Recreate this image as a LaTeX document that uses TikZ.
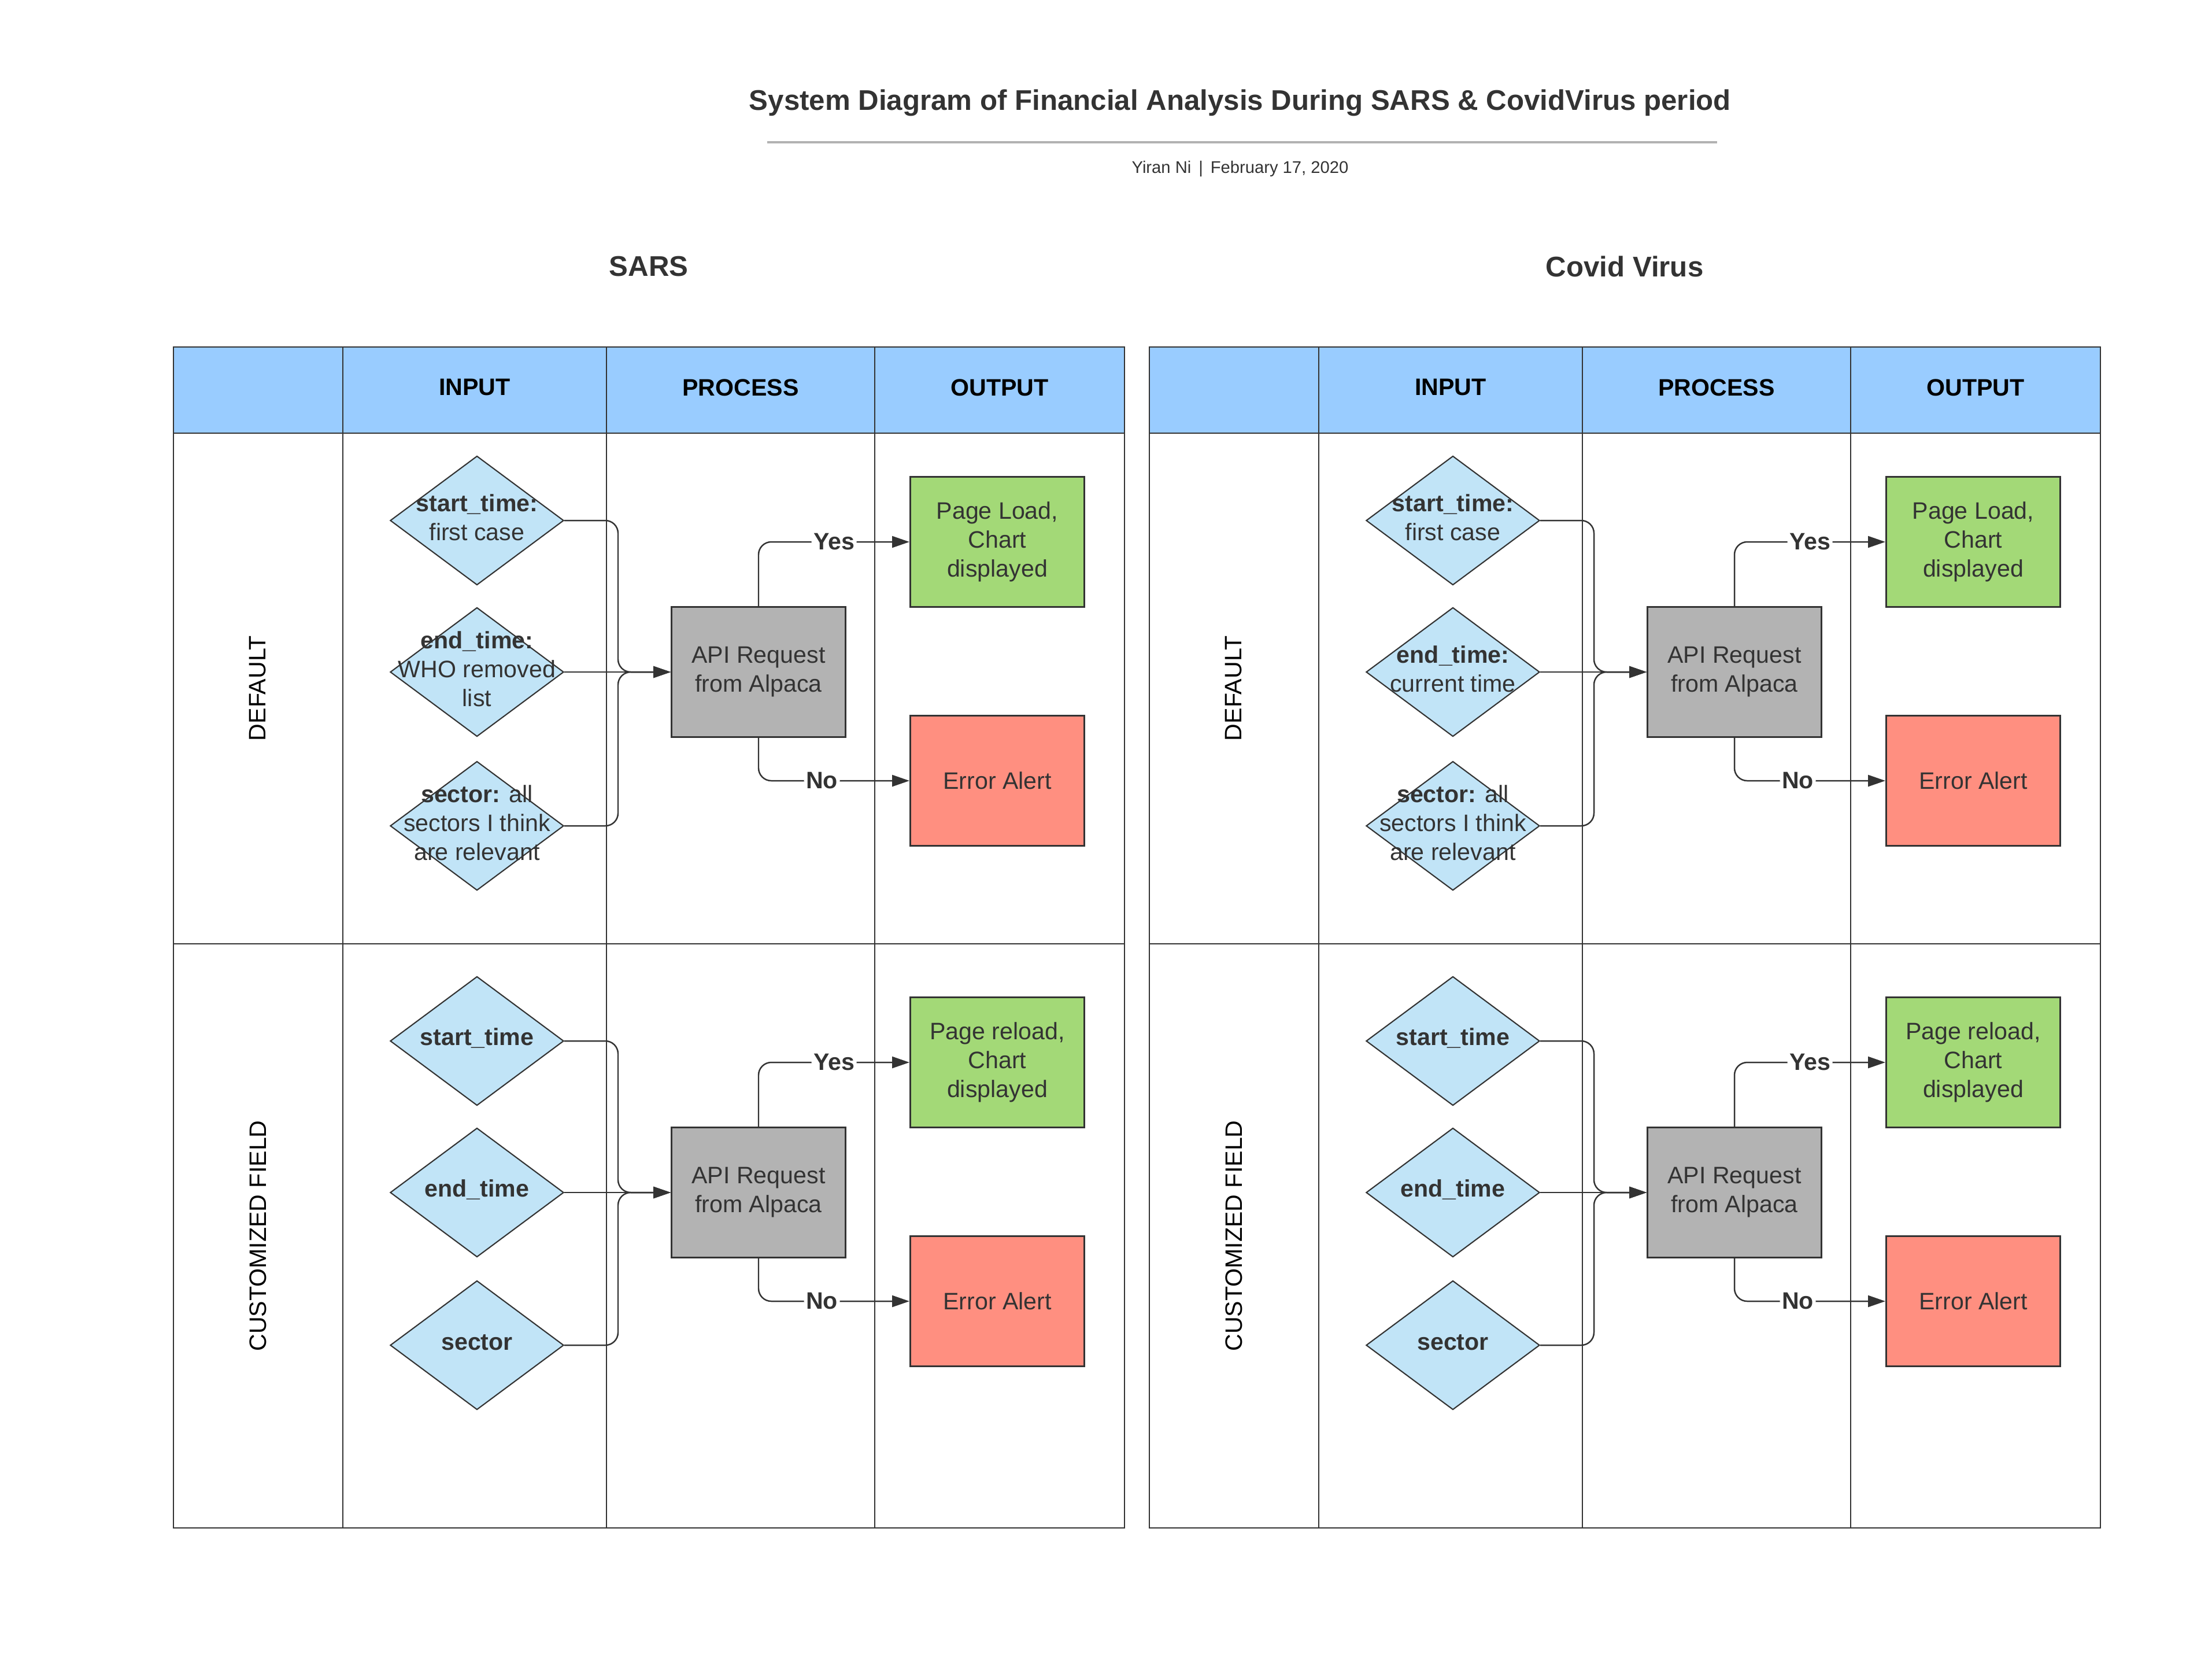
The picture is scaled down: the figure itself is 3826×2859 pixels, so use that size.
\documentclass[tikz,border=0pt]{standalone}
\usepackage{fontspec}
\setmainfont{Liberation Sans}
\usetikzlibrary{arrows.meta,shapes.geometric}

\definecolor{hdrblue}{HTML}{99CCFF}
\definecolor{diablue}{HTML}{C1E4F7}
\definecolor{okgreen}{HTML}{A3D977}
\definecolor{errred}{HTML}{FF8F80}
\definecolor{apigray}{HTML}{B3B3B3}
\definecolor{ink}{HTML}{333333}

\begin{document}
\begin{tikzpicture}[
  x=0.01cm, y=-0.01cm,
  every node/.style={font=\fontsize{11.7}{14.2}\selectfont, text=ink},
  grid/.style={draw=ink, line width=0.8pt},
  hdr/.style={font=\fontsize{11.7}{14.2}\selectfont\bfseries, text=black},
  rowlbl/.style={rotate=90, text=black},
  dia/.style={diamond, draw=ink, fill=diablue, line width=0.6pt,
    minimum width=3cm, minimum height=2.23cm, inner sep=0pt},
  diatxt/.style={align=center, inner sep=0pt, yshift=0.5mm},
  box/.style={draw=ink, line width=0.8pt, minimum width=3.01cm,
    minimum height=2.25cm, align=center},
  conn/.style={draw=ink, line width=0.7pt, -{Triangle[length=3mm, width=2mm]}},
  lbl/.style={fill=white, inner sep=1pt, font=\fontsize{11.7}{14.2}\selectfont\bfseries},
]
  \useasboundingbox (0,0) rectangle (3826,2859);

  % title block
  \node[font=\fontsize{14}{17}\selectfont\bfseries] (title) at (2145,178)
    {System Diagram of Financial Analysis During SARS \& CovidVirus period};
  \draw[gray!60, line width=1.1pt] (1327,246) -- (2970,246);
  \node[font=\fontsize{8.3}{10}\selectfont] (byline) at (2145,292)
    {Yiran Ni \,|\, February 17, 2020};

  \foreach \dx/\p/\name/\endtxt in {0/s/SARS/{WHO removed\\list},
                                     1688/c/Covid Virus/current time}{
  \begin{scope}[shift={(\dx,0)}]
    \node[font=\fontsize{14}{17}\selectfont\bfseries] (name\p) at (1122,461) {\name};

    % table
    \fill[hdrblue] (300,600) rectangle (1945,749);
    \draw[grid] (300,600) rectangle (1945,2642);
    \draw[grid] (300,749) -- (1945,749) (300,1632) -- (1945,1632);
    \draw[grid] (593,600) -- (593,2642) (1049,600) -- (1049,2642)
                (1513,600) -- (1513,2642);
    \node[hdr] (in\p)  at (821,670)  {INPUT};
    \node[hdr] (pr\p)  at (1281,670) {PROCESS};
    \node[hdr] (out\p) at (1729,670) {OUTPUT};
    \node[rowlbl] (def\p) at (446,1190) {DEFAULT};
    \node[rowlbl] (cus\p) at (446,2137) {CUSTOMIZED FIELD};

    % default row
    \node[dia] (d1\p) at (825,900)  {};
    \node[dia] (d2\p) at (825,1162) {};
    \node[dia] (d3\p) at (825,1428) {};
    \node[diatxt] (d1t\p) at (d1\p) {\textbf{start\_time:}\\first case};
    \node[diatxt] (d2t\p) at (d2\p) {\textbf{end\_time:}\\\endtxt};
    \node[diatxt] (d3t\p) at (d3\p) {\textbf{sector:} all\\sectors I think\\are relevant};
    \node[box, fill=apigray] (api\p) at (1312,1162) {API Request\\from Alpaca};
    \node[box, fill=okgreen] (ok\p)  at (1725,937)  {Page Load,\\Chart\\displayed};
    \node[box, fill=errred]  (err\p) at (1725,1350) {Error Alert};
    \coordinate (bus\p) at (1069,1162);
    \draw[conn, rounded corners=2.2mm] (d1\p.east) -| (bus\p) -- (api\p.west);
    \draw[conn, line width=0.4pt] (d2\p.east) -- (api\p.west);
    \draw[conn, rounded corners=2.2mm] (d3\p.east) -| (bus\p) -- (api\p.west);
    \draw[conn, rounded corners=2.2mm] (api\p.north) |- node[lbl, pos=0.75] {Yes} (ok\p.west);
    \draw[conn, rounded corners=2.2mm] (api\p.south) |- node[lbl, pos=0.71] {No} (err\p.west);

    % customized row
    \node[dia] (e1\p) at (825,1800) {};
    \node[dia] (e2\p) at (825,2062) {};
    \node[dia] (e3\p) at (825,2326) {};
    \node[diatxt, font=\fontsize{11.7}{14.2}\selectfont\bfseries] (e1t\p) at (e1\p) {start\_time};
    \node[diatxt, font=\fontsize{11.7}{14.2}\selectfont\bfseries] (e2t\p) at (e2\p) {end\_time};
    \node[diatxt, font=\fontsize{11.7}{14.2}\selectfont\bfseries] (e3t\p) at (e3\p) {sector};
    \node[box, fill=apigray] (capi\p) at (1312,2062) {API Request\\from Alpaca};
    \node[box, fill=okgreen] (cok\p)  at (1725,1837) {Page reload,\\Chart\\displayed};
    \node[box, fill=errred]  (cerr\p) at (1725,2250) {Error Alert};
    \coordinate (cbus\p) at (1069,2062);
    \draw[conn, rounded corners=2.2mm] (e1\p.east) -| (cbus\p) -- (capi\p.west);
    \draw[conn, line width=0.4pt] (e2\p.east) -- (capi\p.west);
    \draw[conn, rounded corners=2.2mm] (e3\p.east) -| (cbus\p) -- (capi\p.west);
    \draw[conn, rounded corners=2.2mm] (capi\p.north) |- node[lbl, pos=0.75] {Yes} (cok\p.west);
    \draw[conn, rounded corners=2.2mm] (capi\p.south) |- node[lbl, pos=0.71] {No} (cerr\p.west);
  \end{scope}
  }
\end{tikzpicture}
\end{document}
